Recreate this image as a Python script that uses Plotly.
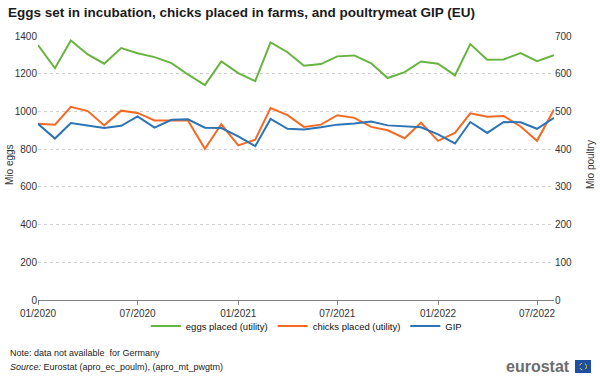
import plotly.graph_objects as go

months = ["2020-01", "2020-02", "2020-03", "2020-04", "2020-05", "2020-06", "2020-07", "2020-08",
          "2020-09", "2020-10", "2020-11", "2020-12", "2021-01", "2021-02", "2021-03", "2021-04",
          "2021-05", "2021-06", "2021-07", "2021-08", "2021-09", "2021-10", "2021-11", "2021-12",
          "2022-01", "2022-02", "2022-03", "2022-04", "2022-05", "2022-06", "2022-07", "2022-08"]

# Mio eggs (left axis)
eggs_placed = [1352, 1229, 1376, 1302, 1253, 1336, 1309, 1288, 1256, 1196, 1140, 1265,
               1203, 1161, 1366, 1314, 1242, 1251, 1292, 1297, 1255, 1177, 1208, 1265,
               1253, 1191, 1357, 1274, 1276, 1309, 1267, 1298]

# Mio poultry (right axis)
chicks_placed = [467, 465, 512, 501, 463, 502, 496, 476, 476, 476, 401, 466,
                 410, 425, 509, 490, 459, 465, 490, 483, 459, 450, 429, 470,
                 422, 443, 495, 486, 488, 460, 422, 505]
gip = [467, 428, 469, 463, 456, 462, 487, 457, 478, 479, 457, 456,
       434, 408, 480, 454, 452, 458, 465, 468, 473, 463, 460, 458,
       439, 415, 472, 443, 472, 471, 454, 483]

tick_vals = ["2020-01", "2020-07", "2021-01", "2021-07", "2022-01", "2022-07"]
tick_text = ["01/2020", "07/2020", "01/2021", "07/2021", "01/2022", "07/2022"]

series_names = ["eggs placed (utility)", "chicks placed (utility)", "GIP"]
colors = ["#67b43f", "#f46a25", "#2c74b5"]

FONT = "Arial, Liberation Sans, sans-serif"

fig = go.Figure()
fig.add_trace(go.Scatter(x=months, y=eggs_placed, name=series_names[0], mode="lines",
                         line=dict(color=colors[0], width=2), yaxis="y"))
fig.add_trace(go.Scatter(x=months, y=chicks_placed, name=series_names[1], mode="lines",
                         line=dict(color=colors[1], width=2), yaxis="y2"))
fig.add_trace(go.Scatter(x=months, y=gip, name=series_names[2], mode="lines",
                         line=dict(color=colors[2], width=2), yaxis="y2"))

L, R, T, B = 38, 46, 36, 78
W, H = 600, 378
pw, ph = W - L - R, H - T - B


def px(x):
    return (x - L) / pw


def py(y):
    return (H - B - y) / ph


fig.update_layout(
    width=W, height=H,
    margin=dict(l=L, r=R, t=T, b=B, autoexpand=False),
    paper_bgcolor="white", plot_bgcolor="white",
    font=dict(family=FONT, size=10, color="#333333"),
    title=dict(text="<b>Eggs set in incubation, chicks placed in farms, and poultrymeat GIP (EU)</b>",
               x=8 / W, xanchor="left", xref="container", y=1 - 12 / H, yanchor="middle",
               yref="container", font=dict(size=13.5, color="#1a1a1a", family=FONT)),
    xaxis=dict(type="date", range=["2020-01-01", "2022-08-01"], tickvals=tick_vals,
               ticktext=tick_text, showgrid=False, showline=True, linecolor="#808080",
               linewidth=1, ticks="outside", ticklen=4, tickcolor="#808080", automargin=False,
               tickfont=dict(size=10, color="#333333"), zeroline=False),
    yaxis=dict(range=[0, 1400], dtick=200, showgrid=True, gridcolor="#d0d0d0",
               griddash="dot", gridwidth=1, zeroline=False, showline=False, automargin=False,
               tickfont=dict(size=10, color="#333333"), ticks=""),
    yaxis2=dict(range=[0, 700], dtick=100, overlaying="y", side="right", showgrid=False,
                zeroline=False, showline=False, automargin=False,
                tickfont=dict(size=10, color="#333333"), ticks=""),
    legend=dict(orientation="h", x=0.52, xanchor="center", y=py(326), yanchor="middle",
                font=dict(size=9.5, color="#111111"), itemwidth=30, tracegroupgap=0,
                bgcolor="rgba(0,0,0,0)"),
    showlegend=True,
)

# axis titles
fig.add_annotation(text="Mio eggs", xref="paper", yref="paper", x=px(9), y=py(165),
                   xanchor="center", yanchor="middle", textangle=-90, showarrow=False,
                   font=dict(size=10, color="#333333"))
fig.add_annotation(text="Mio poultry", xref="paper", yref="paper", x=px(590), y=py(165),
                   xanchor="center", yanchor="middle", textangle=-90, showarrow=False,
                   font=dict(size=10, color="#333333"))

fig.add_annotation(text="Note: data not available  for Germany", xref="paper", yref="paper",
                   x=px(8), y=py(353), xanchor="left", yanchor="middle", showarrow=False,
                   font=dict(size=9, color="#222222"))
fig.add_annotation(text="<i>Source:</i> Eurostat (apro_ec_poulm), (apro_mt_pwgtm)", xref="paper",
                   yref="paper", x=px(8), y=py(367), xanchor="left", yanchor="middle",
                   showarrow=False, font=dict(size=9, color="#222222"))
fig.add_annotation(text="<b>eurostat</b>", xref="paper", yref="paper", x=px(572), y=py(366),
                   xanchor="right", yanchor="middle", showarrow=False,
                   font=dict(size=16, color="#6d6d6d", family=FONT))
# EU flag
fig.add_shape(type="rect", xref="paper", yref="paper", x0=px(575), x1=px(591), y0=py(373),
              y1=py(360), fillcolor="#1f4fa3", line=dict(width=0))
fig.add_shape(type="circle", xref="paper", yref="paper", x0=px(579.5), x1=px(586.5),
              y0=py(370), y1=py(363), line=dict(color="#f5d000", width=1, dash="dot"))

fig.write_html("out.html", config={"displayModeBar": False},
               post_script="document.body.style.margin='0px';document.body.style.overflow='hidden';")
